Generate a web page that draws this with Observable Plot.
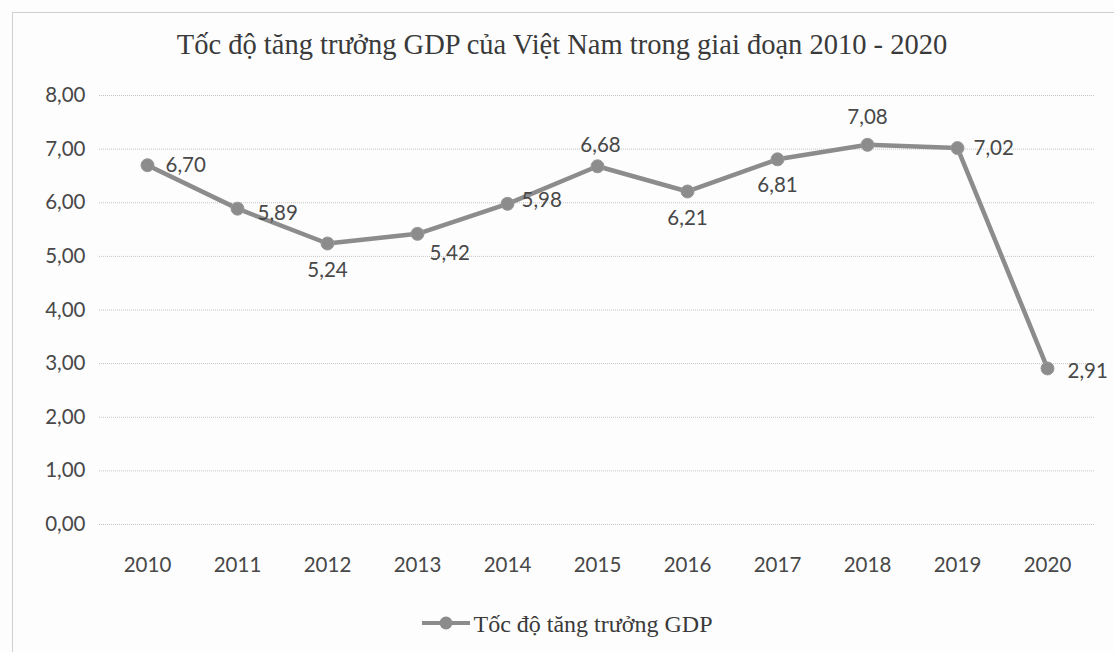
<!DOCTYPE html>
<html>
<head>
<meta charset="utf-8">
<script src="https://cdn.jsdelivr.net/npm/d3@7"></script>
<script src="https://cdn.jsdelivr.net/npm/@observablehq/plot@0.6"></script>
<style>
  html, body { margin: 0; padding: 0; background: #fff; }
  #wrap { position: relative; width: 1114px; height: 652px; overflow: hidden; background: #fdfdfd; }
  #frame { position: absolute; left: 12px; top: 12px; width: 1110px; height: 660px; border: 1px solid #d0d0d0; box-sizing: border-box; }
  #title { position: absolute; left: 0; width: 1124px; top: 29px; text-align: center;
           font-family: "Liberation Serif", serif; font-size: 28.5px; color: #3a3a3a; }
  #legend { position: absolute; left: 0; width: 1134px; top: 611px; text-align: center;
            font-family: "Liberation Serif", serif; font-size: 24px; color: #3a3a3a; }
  #legend svg { vertical-align: middle; margin-right: 2px; position: relative; top: -3px; }
  #chart { position: absolute; left: 0; top: 0; }
</style>
</head>
<body>
<div id="wrap">
  <div id="frame"></div>
  <div id="chart"></div>
  <div id="title"></div>
  <div id="legend"></div>
</div>
<script>
const years = ["2010","2011","2012","2013","2014","2015","2016","2017","2018","2019","2020"];
const growth = [6.70, 5.89, 5.24, 5.42, 5.98, 6.68, 6.21, 6.81, 7.08, 7.02, 2.91];
const yTicks = [0, 1, 2, 3, 4, 5, 6, 7, 8];
const titleText = "Tốc độ tăng trưởng GDP của Việt Nam trong giai đoạn 2010 - 2020";
const seriesName = "Tốc độ tăng trưởng GDP";

// label placement (style, not data)
const place = {
  "2010": {dx: 18, dy: 0, anchor: "start"},
  "2011": {dx: 20, dy: 5, anchor: "start"},
  "2012": {dx: 0, dy: 27, anchor: "middle"},
  "2013": {dx: 12, dy: 20, anchor: "start"},
  "2014": {dx: 14, dy: -3, anchor: "start"},
  "2015": {dx: 3, dy: -21, anchor: "middle"},
  "2016": {dx: 0, dy: 27, anchor: "middle"},
  "2017": {dx: 0, dy: 26, anchor: "middle"},
  "2018": {dx: 0, dy: -27, anchor: "middle"},
  "2019": {dx: 16, dy: 0, anchor: "start"},
  "2020": {dx: 20, dy: 3, anchor: "start"}
};

const data = years.map((y, i) => ({year: y, value: growth[i]}));
const fmt = v => v.toFixed(2).replace(".", ",");
const lineColor = "#8c8c8c";
const textColor = "#484848";
const sans = "Lato, 'Open Sans', sans-serif";
const fs = 20.5;

const labelMarks = data.map(d => {
  const p = place[d.year];
  return Plot.text([d], {
    x: "year", y: "value", text: r => fmt(r.value),
    dx: p.dx, dy: p.dy, textAnchor: p.anchor,
    fill: textColor, fontSize: fs, fontFamily: sans
  });
});

const chart = Plot.plot({
  width: 1114,
  height: 652,
  marginTop: 95,
  marginBottom: 128,
  marginLeft: 99,
  marginRight: 19,
  style: {background: "transparent", fontFamily: sans, fontSize: fs + "px", color: textColor},
  x: {type: "band", domain: years, padding: 0, label: null},
  y: {domain: [0, 8], label: null},
  marks: [
    Plot.ruleY(yTicks, {stroke: "#c4c4c4", strokeWidth: 1, strokeDasharray: "1,1"}),
    Plot.axisY(yTicks, {tickSize: 0, tickPadding: 14, tickFormat: fmt, fontSize: fs, fill: textColor}),
    Plot.axisX({tickSize: 0, tickPadding: 33, fontSize: fs, fill: textColor}),
    Plot.line(data, {x: "year", y: "value", stroke: lineColor, strokeWidth: 4.5, strokeLinejoin: "round"}),
    Plot.dot(data, {x: "year", y: "value", r: 6.5, fill: lineColor, stroke: "#999", strokeWidth: 1}),
    ...labelMarks
  ]
});
document.getElementById("chart").appendChild(chart);
document.getElementById("title").textContent = titleText;
document.getElementById("legend").innerHTML =
  `<svg width="50" height="16"><line x1="1" y1="8" x2="49" y2="8" stroke="${lineColor}" stroke-width="4"/><circle cx="25" cy="8" r="6.5" fill="${lineColor}"/></svg>`;
document.getElementById("legend").appendChild(document.createTextNode(seriesName));
</script>
</body>
</html>
